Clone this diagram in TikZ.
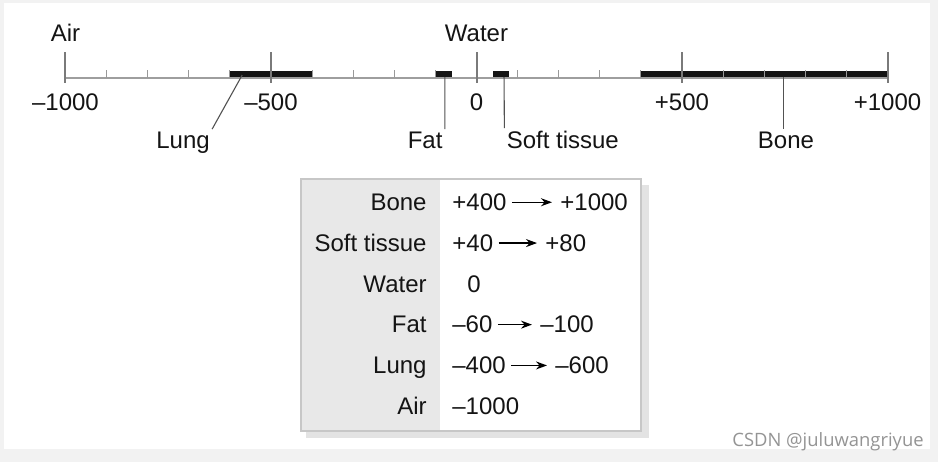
\documentclass[tikz,border=0pt]{standalone}
\usepackage{fontspec}
\setmainfont{Liberation Sans}
\newfontfamily\wmfont{Open Sans}
\usetikzlibrary{arrows.meta}
\def\zerox{476.5}
\def\axisy{78}
\def\hu{0.2055pt}
\def\colkey{427}
\def\colval{452}
\def\rowone{210.5}
\def\rowpitch{40.8}

\begin{document}
\begin{tikzpicture}[x=0.5pt,y=-0.5pt,
		font=\fontsize{12}{14}\selectfont,
		ax/.style={draw=black!38,line width=0.8pt},
		maj/.style={draw=black!52,line width=1pt},
		mnr/.style={draw=black!40,line width=0.5pt},
		bar/.style={fill=black!92},
		lead/.style={draw=black!68,line width=0.55pt},
		lbl/.style={inner sep=1pt,anchor=base,text=black!92},
		key/.style={inner sep=0pt,anchor=base east,text=black!92},
		val/.style={inner sep=0pt,anchor=base west,text=black!92},
		arr/.style={-{Stealth[length=5.5pt,width=4pt]},line width=0.65pt,
			shorten <=2.5pt,shorten >=4pt}]
		
		% ============ Page and frame ============
		\fill[black!5] (0,0) rectangle (938,462);
		\fill[white] (4,3) rectangle (930,449);
		\useasboundingbox (0,0) rectangle (938,462);
		
		% ============ 1) Scale in Hounsfield units ============
		\begin{scope}[shift={(\zerox,\axisy)},x=\hu]
			\fill[bar] (-600,-7.5) rectangle (-400,0);
			\fill[bar] (-100,-7.5) rectangle (-60,0);
			\fill[bar] (40,-7.5) rectangle (80,0);
			\fill[bar] (400,-7.5) rectangle (1000,0);
			\draw[ax] (-1000,0) -- (1000,0);
			\foreach \v in {-900,-800,...,900}
				\draw[mnr] (\v,-8) -- (\v,0);
			\foreach \v in {-1000,-500,...,1000}
				\draw[maj] (\v,-26) -- (\v,5);
			% labels over and under the line
			\node[lbl] (air) at (-1000,-37) {Air};
			\node[lbl] (water) at (0,-37) {Water};
			\node[lbl] (mthousand) at (-1000,32) {–1000};
			\node[lbl] (mfive) at (-500,32) {–500};
			\node[lbl] (zero) at (0,32) {0};
			\node[lbl] (pfive) at (500,32) {+500};
			\node[lbl] (pthousand) at (1000,32) {+1000};
			\node[lbl] (lung) at (-714,70) {Lung};
			\node[lbl] (fat) at (-125,70) {Fat};
			\node[lbl] (soft) at (210,70) {Soft tissue};
			\node[lbl] (bone) at (753,70) {Bone};
			% leaders from the bars
			\coordinate (lungbar) at (-570,-3);
			\coordinate (fatbar) at (-77,-1);
			\coordinate (softbar) at (67,-1);
			\coordinate (bonebar) at (746,-1);
			\draw[lead] (lungbar) -- (lung.north east);
			\draw[lead] (fatbar) -- (fat.north east);
			\draw[lead] (softbar) -- (soft.north west);
			\draw[lead] (bonebar) -- (bonebar |- bone.north);
		\end{scope}
		
		% ============ 2) Table of ranges ============
		\fill[black!11] (306,185) rectangle (649,438);
		\fill[white] (301,179) rectangle (641,431);
		\fill[black!9] (301,179) rectangle (440,431);
		\draw[black!22,line width=0.6pt] (301,179) rectangle (641,431);
		
		\node[key] (kbone) at (\colkey,\rowone) {Bone};
		\node[key] (ksoft) at (\colkey,{\rowone+\rowpitch}) {Soft tissue};
		\node[key] (kwater) at (\colkey,{\rowone+2*\rowpitch}) {Water};
		\node[key] (kfat) at (\colkey,{\rowone+3*\rowpitch}) {Fat};
		\node[key] (klung) at (\colkey,{\rowone+4*\rowpitch}) {Lung};
		\node[key] (kair) at (\colkey,{\rowone+5*\rowpitch}) {Air};
		
		\node[val] (bonelo) at (\colval,\rowone) {+400};
		\node[val] (bonehi) at (560,\rowone) {+1000};
		\draw[arr] (bonelo) -- (bonehi);
		
		\node[val] (softlo) at (\colval,{\rowone+\rowpitch}) {+40};
		\node[val] (softhi) at (545,{\rowone+\rowpitch}) {+80};
		\draw[arr] (softlo) -- (softhi);
		
		\node[val] (waterv) at (467,{\rowone+2*\rowpitch}) {0};
		
		\node[val] (fatlo) at (\colval,{\rowone+3*\rowpitch}) {–60};
		\node[val] (fathi) at (540,{\rowone+3*\rowpitch}) {–100};
		\draw[arr] (fatlo) -- (fathi);
		
		\node[val] (lunglo) at (\colval,{\rowone+4*\rowpitch}) {–400};
		\node[val] (lunghi) at (555,{\rowone+4*\rowpitch}) {–600};
		\draw[arr] (lunglo) -- (lunghi);
		
		\node[val] (airv) at (\colval,{\rowone+5*\rowpitch}) {–1000};
		
		% ============ Watermark ============
		\node[inner sep=0pt,anchor=base east,text=black!42,
			font=\wmfont\fontsize{9.2}{10}\selectfont] (mark) at (924,446) {CSDN @juluwangriyue};
		
	\end{tikzpicture}
\end{document}
